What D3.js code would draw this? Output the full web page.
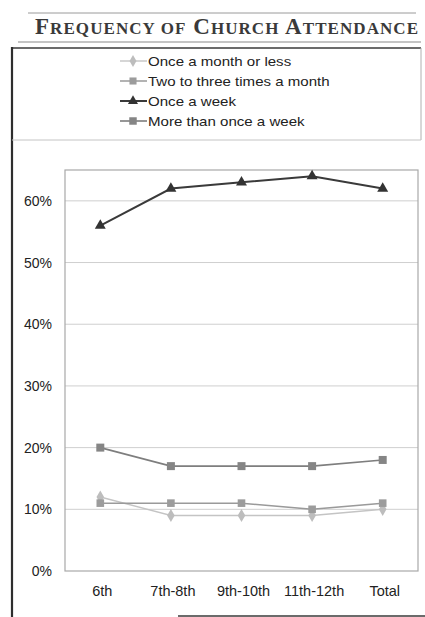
<!DOCTYPE html>
<html>
<head>
<meta charset="utf-8">
<script src="https://cdn.jsdelivr.net/npm/d3@7"></script>
<style>
  html, body { margin: 0; padding: 0; background: #fff; }
  svg { display: block; }
</style>
</head>
<body>
<svg id="chart" width="425" height="617"></svg>
<script>
// Grade groups along the x axis
const grades = ["6th", "7th-8th", "9th-10th", "11th-12th", "Total"];

// Share of students per attendance frequency (percent)
const onceAMonthOrLess   = [12, 9, 9, 9, 10];
const twoToThreeMonthly  = [11, 11, 11, 10, 11];
const onceAWeek          = [56, 62, 63, 64, 62];
const moreThanOnceWeekly = [20, 17, 17, 17, 18];

// Axis ticks (percent)
const yTicks = [0, 10, 20, 30, 40, 50, 60];

const seriesNames = [
  "Once a month or less",
  "Two to three times a month",
  "Once a week",
  "More than once a week"
];

const series = [
  { name: seriesNames[0], values: onceAMonthOrLess,   line: "#c4c4c4", fill: "#bdbdbd", symbol: d3.symbolDiamond,  size: 42, width: 1.4 },
  { name: seriesNames[1], values: twoToThreeMonthly,  line: "#9a9a9a", fill: "#9c9c9c", symbol: d3.symbolSquare,   size: 50, width: 1.5 },
  { name: seriesNames[2], values: onceAWeek,          line: "#3a3a3a", fill: "#333333", symbol: d3.symbolTriangle, size: 44, width: 2 },
  { name: seriesNames[3], values: moreThanOnceWeekly, line: "#7e7e7e", fill: "#858585", symbol: d3.symbolSquare,   size: 56, width: 1.6 }
];

const sans = "'Liberation Sans', Arial, sans-serif";
const svg = d3.select("#chart");

// ---- Heading ----
const head = svg.append("g");
head.append("line").attr("x1", 28).attr("x2", 416).attr("y1", 13).attr("y2", 13)
  .attr("stroke", "#9a9a9a").attr("stroke-width", 1);
head.append("line").attr("x1", 18).attr("x2", 421).attr("y1", 42).attr("y2", 42)
  .attr("stroke", "#8a8a8a").attr("stroke-width", 1.2);

const title = head.append("text")
  .attr("x", 35).attr("y", 34)
  .attr("font-family", "'Liberation Serif', 'DejaVu Serif', serif")
  .attr("font-weight", "bold")
  .attr("fill", "#3a3a3a")
  .attr("textLength", 383)
  .attr("lengthAdjust", "spacing");
// small caps: words with a capital initial get a full-size first letter
["Frequency", "of", "Church", "Attendance"].forEach((w, i) => {
  const sep = i ? " " : "";
  if (w[0] === w[0].toUpperCase()) {
    title.append("tspan").attr("font-size", 23).text(sep + w[0]);
    title.append("tspan").attr("font-size", 17).text(w.slice(1).toUpperCase());
  } else {
    title.append("tspan").attr("font-size", 17).text(sep + w.toUpperCase());
  }
});

// ---- Outer frame ----
const frame = svg.append("g").attr("fill", "none");
frame.append("line").attr("x1", 11).attr("x2", 421).attr("y1", 48).attr("y2", 48)
  .attr("stroke", "#3a3a3a").attr("stroke-width", 1.6);
frame.append("line").attr("x1", 12).attr("x2", 12).attr("y1", 47).attr("y2", 617)
  .attr("stroke", "#2e2e2e").attr("stroke-width", 2.2);
frame.append("line").attr("x1", 421).attr("x2", 421).attr("y1", 48).attr("y2", 140)
  .attr("stroke", "#b0b0b0").attr("stroke-width", 1);
frame.append("line").attr("x1", 12).attr("x2", 421).attr("y1", 140).attr("y2", 140)
  .attr("stroke", "#c4c4c4").attr("stroke-width", 1);
frame.append("line").attr("x1", 178).attr("x2", 425).attr("y1", 616).attr("y2", 616)
  .attr("stroke", "#3a3a3a").attr("stroke-width", 1.6);

// ---- Legend ----
const legend = svg.append("g");
series.forEach((s, i) => {
  const ly = 61 + i * 20;
  const g = legend.append("g").attr("transform", `translate(0,${ly})`);
  g.append("line").attr("x1", 120).attr("x2", 147).attr("y1", 0).attr("y2", 0)
    .attr("stroke", s.line).attr("stroke-width", s.width);
  g.append("path").attr("d", d3.symbol(s.symbol, s.size)())
    .attr("transform", "translate(133,0)").attr("fill", s.fill);
  g.append("text")
    .attr("transform", "translate(148,4.5) scale(1.16,1)")
    .attr("font-family", sans)
    .attr("font-size", 13).attr("fill", "#222")
    .text(s.name);
});

// ---- Plot ----
const plot = { left: 65, right: 418, top: 170, bottom: 571 };

const x = d3.scaleBand().domain(grades).range([plot.left, plot.right]);
const y = d3.scaleLinear().domain([0, 65]).range([plot.bottom, plot.top]);
const cx = d => x(d) + x.bandwidth() / 2;

// gridlines
svg.append("g").selectAll("line").data(yTicks.filter(t => t > 0)).join("line")
  .attr("x1", plot.left).attr("x2", plot.right)
  .attr("y1", d => y(d)).attr("y2", d => y(d))
  .attr("stroke", "#cfcfcf").attr("stroke-width", 1);

// plot frame
svg.append("rect")
  .attr("x", plot.left).attr("y", plot.top)
  .attr("width", plot.right - plot.left).attr("height", plot.bottom - plot.top)
  .attr("fill", "none").attr("stroke", "#a8a8a8").attr("stroke-width", 1.2);

// y axis labels
const yAxis = svg.append("g")
  .attr("transform", `translate(${plot.left - 13},0)`)
  .call(d3.axisLeft(y).tickValues(yTicks).tickFormat(d => d + "%").tickSize(0).tickPadding(0));
yAxis.select(".domain").remove();
yAxis.selectAll("text")
  .attr("font-family", sans)
  .attr("font-size", 14).attr("fill", "#222");

// x axis labels
const xAxis = svg.append("g")
  .attr("transform", `translate(2,${plot.bottom + 15})`)
  .call(d3.axisBottom(x).tickSize(0).tickPadding(0));
xAxis.select(".domain").remove();
xAxis.selectAll("text")
  .attr("font-family", sans)
  .attr("font-size", 14.5).attr("fill", "#222");

// series lines and markers
const line = d3.line().x((d, i) => cx(grades[i])).y(d => y(d));
series.forEach(s => {
  const g = svg.append("g");
  g.append("path").datum(s.values).attr("d", line)
    .attr("fill", "none").attr("stroke", s.line).attr("stroke-width", s.width);
  g.selectAll("path.m").data(s.values).join("path").attr("class", "m")
    .attr("d", d3.symbol(s.symbol, s.size + 8)())
    .attr("transform", (d, i) => `translate(${cx(grades[i])},${y(d)})`)
    .attr("fill", s.fill);
});
</script>
</body>
</html>
